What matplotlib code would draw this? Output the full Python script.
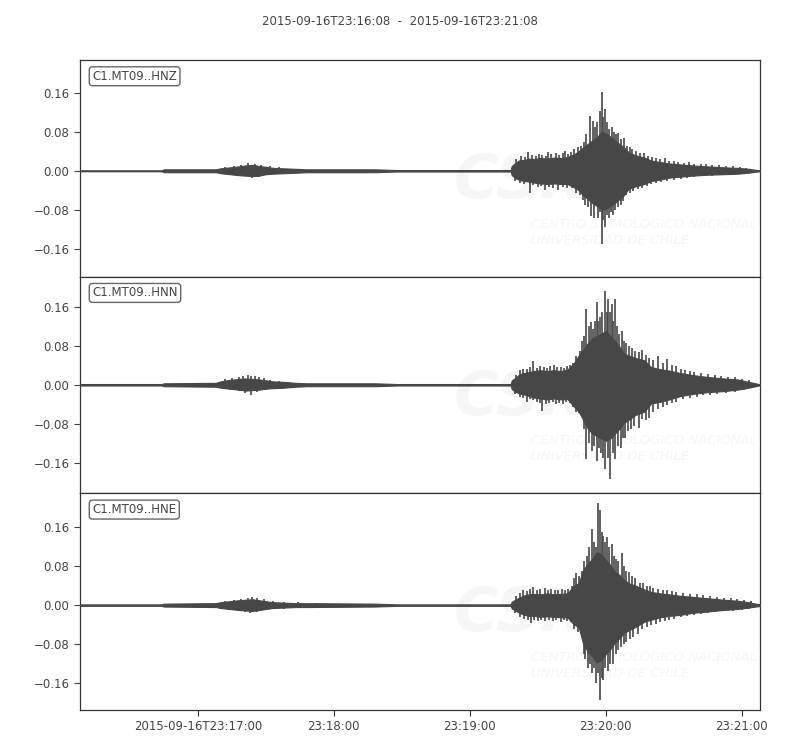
import numpy as np
import matplotlib
matplotlib.use("Agg")
import matplotlib.pyplot as plt

title = "2015-09-16T23:16:08  -  2015-09-16T23:21:08"
channels = ["C1.MT09..HNZ", "C1.MT09..HNN", "C1.MT09..HNE"]
x_ticks_s = [52, 112, 172, 232, 292]
x_tick_labels = ["2015-09-16T23:17:00", "23:18:00", "23:19:00", "23:20:00", "23:21:00"]
y_ticks = [-0.16, -0.08, 0.0, 0.08, 0.16]

# Envelope knots (seconds after 23:16:08)
t_env = [0, 36, 37, 60, 62, 66, 70, 73, 76, 79, 82, 85, 90, 95, 100, 130, 140, 190,
         190.5, 192, 194, 196, 198, 200, 203, 206, 209, 212, 215, 218, 220, 222, 224,
         226, 228, 230, 232, 234, 236, 238, 240, 242, 245, 249, 252, 256, 260, 265,
         270, 277, 284, 290, 295, 298, 300]

hnz_upper = [0.001, 0.001, 0.003, 0.003, 0.005, 0.007, 0.009, 0.011, 0.012, 0.010, 0.008,
             0.006, 0.005, 0.004, 0.003, 0.003, 0.0015, 0.0015,
             0.010, 0.016, 0.022, 0.022, 0.025, 0.024, 0.026, 0.025, 0.027, 0.026, 0.028,
             0.034, 0.040, 0.048, 0.055, 0.062, 0.068, 0.080, 0.076, 0.070, 0.062, 0.055,
             0.048, 0.038, 0.032, 0.027, 0.021, 0.018, 0.015, 0.013, 0.011, 0.009, 0.007,
             0.006, 0.004, 0.002, 0.001]
hnz_lower = [-0.001, -0.001, -0.003, -0.003, -0.005, -0.007, -0.009, -0.010, -0.011, -0.010,
             -0.007, -0.006, -0.005, -0.004, -0.003, -0.003, -0.0015, -0.0015,
             -0.009, -0.015, -0.019, -0.021, -0.022, -0.024, -0.026, -0.027, -0.026, -0.027,
             -0.027, -0.034, -0.040, -0.050, -0.058, -0.066, -0.072, -0.080, -0.078, -0.072,
             -0.066, -0.058, -0.050, -0.037, -0.032, -0.027, -0.021, -0.018, -0.014, -0.012,
             -0.010, -0.008, -0.007, -0.006, -0.004, -0.002, -0.001]
hnz_up_t = [64, 68, 71, 74, 77, 80, 84, 88,
            192.5, 194.5, 196.5, 197.8, 199.5, 201, 202.5, 204, 205.5, 206.5, 208, 210,
            211.5, 213, 214, 215.5, 216.5, 218, 219.5, 221, 222.3, 223.2, 224.8, 226.4,
            227.3, 228.3, 229.4, 230.1, 230.8, 231.6, 232.4, 233.5, 234.8, 235.6, 236.5,
            237.5, 238.8, 240, 241.2, 242.5, 243.5, 245.5, 247, 249, 250.5, 252.5, 254, 256,
            258, 260, 262, 264, 266.5, 268.5, 271, 274, 276, 279, 282, 285, 288, 291, 294]
hnz_up_v = [0.008, 0.010, 0.012, 0.015, 0.014, 0.012, 0.009, 0.007,
            0.025, 0.030, 0.028, 0.038, 0.032, 0.030, 0.034, 0.033, 0.030, 0.038, 0.034,
            0.036, 0.032, 0.037, 0.041, 0.035, 0.038, 0.045, 0.048, 0.050, 0.060, 0.075,
            0.113, 0.103, 0.090, 0.100, 0.123, 0.161, 0.110, 0.127, 0.100, 0.085, 0.090,
            0.080, 0.075, 0.078, 0.065, 0.068, 0.050, 0.048, 0.045, 0.040, 0.037, 0.036,
            0.030, 0.028, 0.026, 0.025, 0.026, 0.020, 0.021, 0.018, 0.016, 0.017, 0.014,
            0.014, 0.013, 0.012, 0.011, 0.009, 0.009, 0.007, 0.006]
hnz_lo_t = [66, 70, 76, 79, 83,
            192, 194, 196, 198.5, 200, 202, 203.5, 205, 207, 208.5, 211, 213, 215, 217, 219,
            220.5, 222, 223, 224.2, 225.5, 226.8, 228.5, 229.3, 230.1, 230.9, 231.6, 232.4,
            233.2, 234.2, 235, 236.2, 237.3, 238.5, 239.5, 241, 242.5, 244, 246, 248, 250,
            252, 254, 256.5, 259, 262, 265, 268, 271, 275, 279, 283, 287, 291, 294]
hnz_lo_v = [-0.008, -0.011, -0.014, -0.012, -0.009,
            -0.020, -0.025, -0.028, -0.045, -0.030, -0.034, -0.032, -0.040, -0.034, -0.036,
            -0.040, -0.033, -0.036, -0.035, -0.046, -0.050, -0.060, -0.070, -0.075, -0.092,
            -0.096, -0.096, -0.085, -0.151, -0.100, -0.116, -0.090, -0.096, -0.085, -0.090,
            -0.080, -0.075, -0.070, -0.062, -0.050, -0.045, -0.042, -0.037, -0.035, -0.032,
            -0.027, -0.025, -0.022, -0.020, -0.018, -0.016, -0.014, -0.013, -0.011, -0.010,
            -0.009, -0.008, -0.007, -0.005]

hnn_upper = [0.0015, 0.0015, 0.003, 0.004, 0.007, 0.010, 0.012, 0.013, 0.012, 0.011, 0.009,
             0.007, 0.006, 0.004, 0.003, 0.003, 0.0015, 0.0015,
             0.009, 0.014, 0.022, 0.024, 0.026, 0.028, 0.030, 0.028, 0.030, 0.028, 0.031,
             0.045, 0.060, 0.072, 0.085, 0.095, 0.100, 0.105, 0.110, 0.100, 0.090, 0.078,
             0.064, 0.060, 0.055, 0.050, 0.036, 0.032, 0.029, 0.024, 0.020, 0.016, 0.013,
             0.011, 0.006, 0.003, 0.001]
hnn_lower = [-0.0015, -0.0015, -0.003, -0.004, -0.006, -0.008, -0.010, -0.012, -0.011,
             -0.010, -0.008, -0.007, -0.006, -0.004, -0.003, -0.003, -0.0015, -0.0015,
             -0.009, -0.014, -0.018, -0.020, -0.023, -0.026, -0.028, -0.030, -0.028, -0.030,
             -0.029, -0.045, -0.055, -0.072, -0.090, -0.100, -0.105, -0.110, -0.115, -0.110,
             -0.100, -0.090, -0.078, -0.072, -0.062, -0.055, -0.038, -0.035, -0.030, -0.023,
             -0.019, -0.015, -0.013, -0.010, -0.006, -0.003, -0.001]
hnn_up_t = [64, 67, 70, 72, 74, 75.5, 77, 79, 81, 84, 88,
            192.5, 194, 195.5, 197, 198.5, 200, 201.5, 203, 204.5, 206, 207.5, 209, 210.5,
            212, 213.5, 215, 216, 217.5, 219, 220.5, 221.5, 222.5, 223.4, 224.4, 225.5,
            226.5, 227.2, 228, 228.7, 229.4, 230.4, 231.6, 232.3, 233, 234, 234.6, 235.3,
            236, 237, 238, 239, 240, 241, 242.2, 243.5, 245, 246.5, 248, 249.5, 251, 253,
            255, 257, 259, 261, 263, 265, 267, 269, 271, 274, 277, 280, 283, 286, 289, 292,
            295]
hnn_up_v = [0.011, 0.014, 0.016, 0.018, 0.021, 0.017, 0.018, 0.015, 0.013, 0.010, 0.008,
            0.020, 0.030, 0.033, 0.032, 0.036, 0.049, 0.035, 0.038, 0.036, 0.035, 0.038,
            0.040, 0.036, 0.037, 0.034, 0.038, 0.040, 0.045, 0.060, 0.070, 0.090, 0.100,
            0.156, 0.120, 0.128, 0.115, 0.130, 0.169, 0.130, 0.140, 0.150, 0.192, 0.150,
            0.176, 0.150, 0.165, 0.130, 0.175, 0.120, 0.105, 0.110, 0.090, 0.085, 0.080,
            0.075, 0.070, 0.068, 0.072, 0.062, 0.055, 0.050, 0.058, 0.045, 0.053, 0.040,
            0.038, 0.032, 0.030, 0.028, 0.026, 0.025, 0.022, 0.020, 0.018, 0.016, 0.015,
            0.012, 0.009]
hnn_lo_t = [66, 70, 73, 75.5, 78, 82, 86,
            192, 194, 195.5, 197, 198.5, 200, 201.5, 203, 204, 205.5, 207, 208.5, 210, 211.5,
            213, 214.5, 216, 217.5, 219, 220, 221, 222.2, 223.4, 224.5, 225.8, 226.8, 228,
            228.9, 229.8, 230.8, 231.8, 232.8, 233.8, 235, 236, 237.2, 238.5, 239.5, 240.5,
            241.8, 243, 244.5, 246.5, 248, 249.5, 251, 253, 255, 257, 259, 261, 263, 266,
            269, 272, 275, 278, 281, 285, 289, 293, 296]
hnn_lo_v = [-0.011, -0.013, -0.016, -0.020, -0.014, -0.011, -0.008,
            -0.018, -0.025, -0.028, -0.035, -0.030, -0.032, -0.036, -0.038, -0.053, -0.040,
            -0.038, -0.036, -0.040, -0.038, -0.040, -0.036, -0.038, -0.045, -0.055, -0.058,
            -0.060, -0.090, -0.152, -0.120, -0.135, -0.125, -0.156, -0.130, -0.140, -0.150,
            -0.173, -0.150, -0.193, -0.140, -0.152, -0.125, -0.130, -0.110, -0.110, -0.095,
            -0.090, -0.085, -0.088, -0.070, -0.072, -0.068, -0.055, -0.050, -0.045, -0.042,
            -0.038, -0.035, -0.030, -0.027, -0.025, -0.022, -0.020, -0.018, -0.016, -0.014,
            -0.010, -0.007]

hne_upper = [0.0015, 0.0015, 0.003, 0.004, 0.006, 0.008, 0.010, 0.011, 0.012, 0.010, 0.008,
             0.006, 0.005, 0.004, 0.004, 0.003, 0.0015, 0.0015,
             0.007, 0.011, 0.016, 0.020, 0.022, 0.023, 0.022, 0.024, 0.022, 0.023, 0.024,
             0.040, 0.045, 0.072, 0.085, 0.095, 0.108, 0.105, 0.092, 0.082, 0.068, 0.062,
             0.052, 0.045, 0.040, 0.032, 0.027, 0.024, 0.022, 0.019, 0.017, 0.014, 0.011,
             0.009, 0.006, 0.003, 0.002]
hne_lower = [-0.0015, -0.0015, -0.003, -0.004, -0.006, -0.008, -0.010, -0.011, -0.012,
             -0.010, -0.008, -0.006, -0.005, -0.004, -0.004, -0.003, -0.0015, -0.0015,
             -0.007, -0.011, -0.016, -0.020, -0.022, -0.022, -0.024, -0.023, -0.024, -0.025,
             -0.025, -0.040, -0.045, -0.080, -0.095, -0.105, -0.118, -0.112, -0.100, -0.090,
             -0.077, -0.068, -0.057, -0.052, -0.045, -0.034, -0.030, -0.025, -0.022, -0.020,
             -0.016, -0.013, -0.010, -0.008, -0.005, -0.003, -0.002]
hne_up_t = [64, 68, 71, 74, 76, 78, 81, 85, 90, 96, 104,
            192.5, 194, 195.5, 197, 198.5, 200, 201.5, 203, 205, 206.5, 208, 209.5, 211,
            212.5, 214, 215.5, 217, 218, 219, 220.3, 221.5, 222.5, 223.5, 224.5, 225.7,
            226.6, 227.5, 228.7, 229.4, 230.1, 230.8, 231.6, 232.5, 233.4, 234.5, 235.5,
            236.5, 237.5, 239, 240, 241, 242, 243.5, 245, 247, 248.5, 250, 251.5, 253, 255,
            257, 259, 261, 263, 266, 269, 272, 275, 278, 281, 284, 287, 290, 293, 296]
hne_up_v = [0.008, 0.011, 0.013, 0.015, 0.017, 0.014, 0.012, 0.009, 0.007, 0.006, 0.005,
            0.018, 0.025, 0.030, 0.028, 0.032, 0.038, 0.030, 0.032, 0.036, 0.030, 0.033,
            0.031, 0.030, 0.032, 0.030, 0.033, 0.040, 0.055, 0.065, 0.060, 0.070, 0.090,
            0.100, 0.120, 0.157, 0.130, 0.120, 0.209, 0.195, 0.150, 0.141, 0.130, 0.140,
            0.120, 0.125, 0.100, 0.095, 0.090, 0.106, 0.080, 0.070, 0.068, 0.060, 0.055,
            0.045, 0.045, 0.040, 0.040, 0.035, 0.033, 0.030, 0.030, 0.028, 0.027, 0.025,
            0.023, 0.022, 0.020, 0.018, 0.017, 0.015, 0.014, 0.012, 0.011, 0.008]
hne_lo_t = [66, 70, 73, 75, 78, 81, 85, 90,
            192, 194, 196, 197.5, 199, 200.5, 202, 203.5, 205, 207, 208.5, 210, 212, 213.5,
            215, 216.5, 218, 219.5, 221, 222.2, 223, 224, 224.8, 225.7, 226.6, 227.6, 228.5,
            229.4, 230.1, 230.8, 231.8, 232.8, 233.8, 235, 236.3, 237.5, 238.8, 240, 241,
            242.5, 244, 246, 248, 250, 252, 254, 256, 258, 260, 262, 265, 268, 271, 274,
            277, 280, 284, 288, 292, 295]
hne_lo_v = [-0.009, -0.012, -0.014, -0.017, -0.014, -0.011, -0.009, -0.007,
            -0.016, -0.024, -0.028, -0.030, -0.036, -0.030, -0.032, -0.030, -0.033, -0.030,
            -0.032, -0.030, -0.034, -0.031, -0.032, -0.035, -0.050, -0.055, -0.060, -0.100,
            -0.110, -0.130, -0.120, -0.140, -0.130, -0.160, -0.140, -0.195, -0.150, -0.154,
            -0.130, -0.135, -0.120, -0.120, -0.100, -0.093, -0.085, -0.080, -0.075, -0.070,
            -0.065, -0.060, -0.050, -0.045, -0.040, -0.038, -0.034, -0.032, -0.030, -0.028,
            -0.025, -0.023, -0.021, -0.019, -0.017, -0.015, -0.013, -0.012, -0.010, -0.008]

traces = [
    (hnz_upper, hnz_lower, hnz_up_t, hnz_up_v, hnz_lo_t, hnz_lo_v),
    (hnn_upper, hnn_lower, hnn_up_t, hnn_up_v, hnn_lo_t, hnn_lo_v),
    (hne_upper, hne_lower, hne_up_t, hne_up_v, hne_lo_t, hne_lo_v),
]

wave_color = "#474747"
text_color = "#444444"
wm_color = "#f6f6f6"

fig = plt.figure(figsize=(8, 7.5), dpi=100)
fig.subplots_adjust(left=0.1, right=0.95, top=0.92, bottom=0.0533, hspace=0)
axes = fig.subplots(3, 1, sharex=True)

# common y half range (equal scale), centred on each trace's own range
ranges = []
for up, lo, ut, uv, lt, lv in traces:
    ranges.append((max(max(up), max(uv)), min(min(lo), min(lv))))
half = 1.1 * max((mx - mn) / 2 for mx, mn in ranges)

for ax, (up, lo, ut, uv, lt, lv), ch, (mx, mn) in zip(axes, traces, channels, ranges):
    ax.fill_between(t_env, lo, up, color=wave_color, linewidth=0.8, zorder=3)
    ax.vlines(ut, 0, uv, color=wave_color, linewidth=1.2, zorder=3)
    ax.vlines(lt, 0, lv, color=wave_color, linewidth=1.2, zorder=3)
    c = (mx + mn) / 2
    ax.set_ylim(c - half, c + half)
    ax.set_xlim(0, 300)
    ax.set_yticks(y_ticks)
    ax.set_yticklabels([f"{v:.2f}".replace("-", "\u2212") for v in y_ticks])
    ax.tick_params(axis="both", colors=text_color, labelsize=8.5, length=4, width=0.8,
                   direction="out")
    ax.tick_params(axis="x", colors="#333333", labelcolor=text_color)
    for s in ax.spines.values():
        s.set_color("#333333")
        s.set_linewidth(0.9)
    ax.text(0.018, 0.925, ch, transform=ax.transAxes, fontsize=8.5, color=text_color,
            va="center", ha="left", zorder=6,
            bbox=dict(boxstyle="round,pad=0.25", facecolor="white", edgecolor="#666666",
                      linewidth=1.0))
    # faint CSN watermark
    ax.text(0.55, 0.44, "CSN", transform=ax.transAxes, fontsize=44, fontweight="bold",
            fontstyle="italic", color=wm_color, ha="left", va="center", zorder=1)
    ax.text(0.663, 0.205, "CENTRO SISMOLÓGICO NACIONAL\nUNIVERSIDAD DE CHILE",
            transform=ax.transAxes, fontsize=9.5, fontstyle="italic", color=wm_color,
            ha="left", va="center", zorder=1, linespacing=1.3)

axes[-1].set_xticks(x_ticks_s)
axes[-1].set_xticklabels(x_tick_labels)
for ax in axes[:-1]:
    ax.tick_params(axis="x", length=0)

fig.suptitle(title, y=0.98, fontsize=8.5, color=text_color)
fig.savefig("out.png", dpi=100)
